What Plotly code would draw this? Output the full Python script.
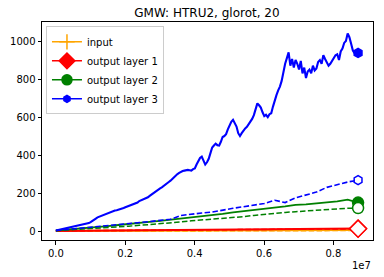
import numpy as np
import plotly.graph_objects as go

title = "GMW: HTRU2, glorot, 20"
legend_names = ["input", "output layer 1", "output layer 2", "output layer 3"]

# x in units of 1e7 steps
blue_solid = [3, 5, 8, 10, 12, 14, 17, 19, 21, 23,
              26, 28, 30, 32, 34, 35, 37, 38, 40, 42,
              47, 52, 58, 66, 72, 76, 80, 83, 86, 90,
              95, 97, 100, 104, 108, 110, 112, 115, 118, 121,
              125, 128, 132, 135, 138, 140, 143, 150, 158, 162,
              165, 167, 170, 178, 185, 192, 200, 206, 212, 218,
              225, 230, 236, 242, 250, 258, 265, 275, 285, 292,
              300, 306, 312, 316, 318, 321, 322, 320, 318, 326,
              330, 350, 372, 385, 392, 365, 350, 362, 380, 410,
              440, 450, 460, 452, 450, 470, 495, 500, 510, 535,
              560, 575, 585, 565, 550, 515, 500, 515, 530, 540,
              548, 560, 575, 590, 610, 640, 672, 662, 650, 625,
              605, 612, 600, 615, 620, 655, 690, 715, 740, 760,
              790, 840, 880, 910, 940, 870, 905, 860, 900, 880,
              850, 895, 830, 860, 805, 840, 850, 830, 870, 845,
              855, 890, 900, 880, 925, 905, 890, 870, 880, 895,
              910, 925, 930, 900, 945, 960, 990, 1000, 1040, 1020,
              985, 950, 935, 945, 937]
blue_dashed = [3, 8, 14, 20, 25, 30, 35, 38, 42, 50, 56, 62, 82, 90, 95,
               100, 112, 120, 128, 137, 145, 162, 150, 175, 188, 205, 230, 245, 258, 268]
green_solid = [3, 7, 11, 15, 20, 26, 32, 36, 42, 48, 54, 60, 66, 72, 76,
               84, 90, 98, 104, 110, 116, 122, 130, 138, 140, 146, 150, 156, 165, 150]
green_dashed = [2, 5, 8, 11, 15, 18, 22, 26, 30, 34, 38, 42, 48, 54, 58,
                62, 66, 72, 76, 82, 88, 94, 98, 102, 106, 110, 114, 117, 120, 121]
red_solid = [1, 1.5, 2, 2.5, 3, 3.5, 4, 4.5, 5, 5.5, 6, 6.5, 7, 7.5, 8,
             8.5, 9, 9.5, 10, 10.5, 11, 11.5, 12, 12, 12.5, 13, 13, 13.5, 14, 14]
red_dashed = [1, 1.4, 1.8, 2.2, 2.6, 3, 3.4, 3.8, 4.2, 4.6, 5, 5.4, 5.8, 6.2, 6.6,
              7, 7.4, 7.8, 8.2, 8.6, 9, 9.4, 9.8, 10.2, 10.6, 11, 11.2, 11.5, 11.8, 12]
orange_solid = [0.5, 0.6, 0.8, 1, 1.2, 1.4, 1.6, 1.8, 2, 2.2, 2.4, 2.6, 2.8, 3, 3.1,
                3.2, 3.3, 3.4, 3.5, 3.6, 3.8, 4, 4.1, 4.2, 4.3, 4.5, 4.6, 4.8, 4.9, 5]
orange_dashed = [0.5, 0.6, 0.7, 0.9, 1, 1.2, 1.3, 1.5, 1.6, 1.8, 1.9, 2, 2.2, 2.3, 2.4,
                 2.5, 2.6, 2.7, 2.8, 2.9, 3, 3.1, 3.2, 3.3, 3.4, 3.5, 3.6, 3.7, 3.8, 4]
x_end = 0.871

DASH = "5.5px,2.4px"
series = [
    # values, color, dash, width, marker symbol, marker size, filled
    (orange_solid, "orange", "solid", 2, "cross-thin", 10, True),
    (orange_dashed, "orange", DASH, 2, "cross-thin", 10, False),
    (red_solid, "red", "solid", 2, "diamond", 13, True),
    (red_dashed, "red", DASH, 1.5, "diamond", 13, False),
    (green_solid, "green", "solid", 1.8, "circle", 11, True),
    (green_dashed, "green", DASH, 1.5, "circle", 11, False),
    (blue_solid, "blue", "solid", 2.1, "hexagon", 9, True),
    (blue_dashed, "blue", DASH, 1.6, "hexagon", 9, False),
]

fig = go.Figure()
for vals, col, dash, w, sym, sz, filled in series:
    xs = np.linspace(0, x_end, len(vals))
    fig.add_trace(go.Scatter(x=xs, y=vals, mode="lines",
                             line=dict(color=col, width=w, dash=dash),
                             showlegend=False, hoverinfo="skip"))
    fig.add_trace(go.Scatter(x=[xs[-1]], y=[vals[-1]], mode="markers",
                             marker=dict(symbol=sym, size=sz,
                                         color=col if filled else "white",
                                         line=dict(color=col, width=1.5)),
                             showlegend=False, hoverinfo="skip"))

legend_specs = [("orange", "cross-thin", 11), ("red", "diamond", 12),
                ("green", "circle", 10), ("blue", "hexagon", 7)]
for name, (col, sym, sz) in zip(legend_names, legend_specs):
    fig.add_trace(go.Scatter(x=[None], y=[None], mode="lines+markers", name=name,
                             line=dict(color=col, width=1.5),
                             marker=dict(symbol=sym, size=sz, color=col,
                                         line=dict(color=col, width=1.5))))

axis_common = dict(showline=True, linecolor="black", linewidth=1, mirror=True,
                   ticks="outside", ticklen=3.5, tickcolor="black",
                   showgrid=False, zeroline=False,
                   tickfont=dict(family="DejaVu Sans", size=10, color="black"))

fig.update_layout(
    width=384, height=277,
    margin=dict(l=40, r=10, t=22, b=37),
    paper_bgcolor="white", plot_bgcolor="white",
    title=dict(text=title, x=0.539, xanchor="center", y=0.955, yanchor="middle",
               font=dict(family="DejaVu Sans", size=12, color="black")),
    legend=dict(x=0.012, y=0.98, xanchor="left", yanchor="top",
                bgcolor="rgba(255,255,255,0.8)", bordercolor="#cccccc", borderwidth=1,
                font=dict(family="DejaVu Sans", size=10, color="black"),
                tracegroupgap=0, itemwidth=30),
    xaxis=dict(range=[-0.04, 0.914], tickvals=[0, 0.2, 0.4, 0.6, 0.8],
               ticktext=["0.0", "0.2", "0.4", "0.6", "0.8"], **axis_common),
    yaxis=dict(range=[-47, 1100], tickvals=[0, 200, 400, 600, 800, 1000], **axis_common),
)
fig.add_annotation(text="1e7", xref="paper", yref="paper", x=1, y=0, xanchor="right",
                   yanchor="top", yshift=-18, showarrow=False,
                   font=dict(family="DejaVu Sans", size=10, color="black"))

fig.write_html("out.html")
